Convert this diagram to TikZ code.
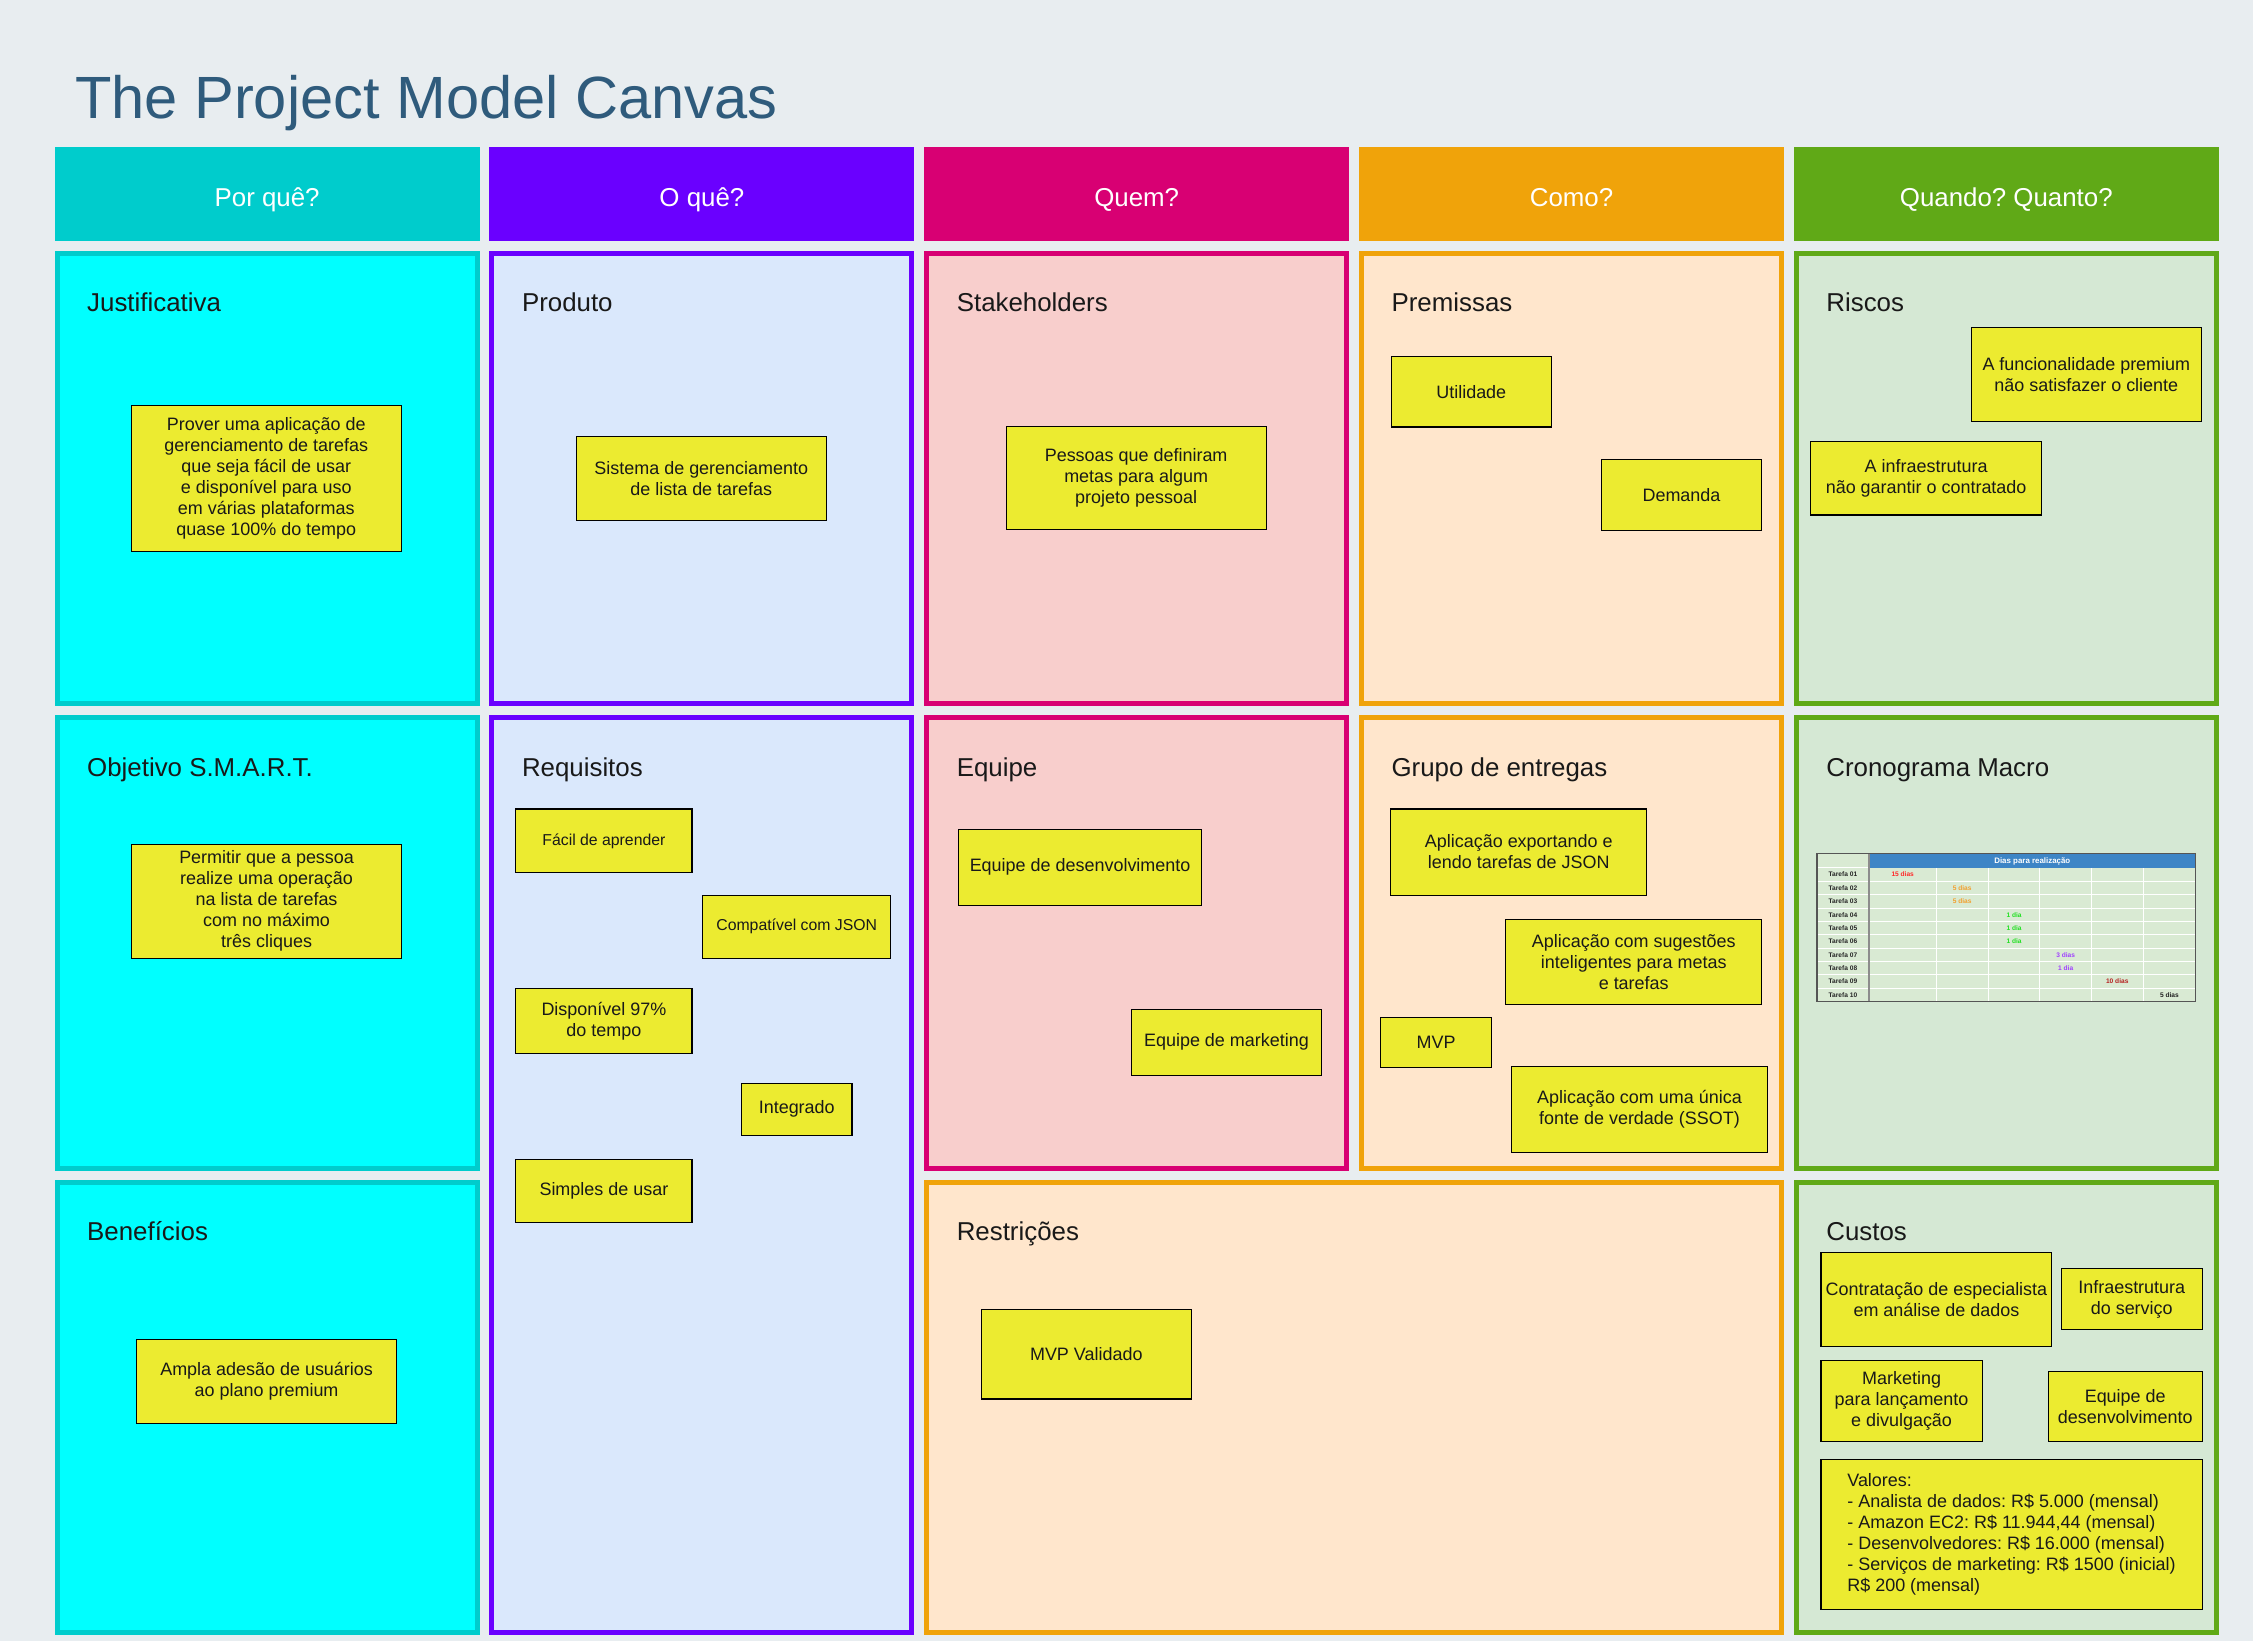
\documentclass[tikz,border=0pt]{standalone}
\usepackage{fontspec}
\setmainfont{Liberation Sans}
\frenchspacing
\definecolor{bg}{HTML}{E8EDF0}
\definecolor{titlec}{HTML}{2F5B7C}
\definecolor{c1h}{HTML}{00CCCC}
\definecolor{c1f}{HTML}{00FFFF}
\definecolor{c2h}{HTML}{6A00FF}
\definecolor{c2f}{HTML}{DAE8FC}
\definecolor{c3h}{HTML}{D80073}
\definecolor{c3f}{HTML}{F8CECC}
\definecolor{c4h}{HTML}{F0A30A}
\definecolor{c4f}{HTML}{FFE6CC}
\definecolor{c5h}{HTML}{60A917}
\definecolor{c5f}{HTML}{D5E8D4}
\definecolor{stickyc}{HTML}{ECEB30}
\definecolor{tblhead}{HTML}{3D85C6}
\definecolor{tblfill}{HTML}{D9EAD3}
\definecolor{tblborder}{HTML}{555555}
\definecolor{vred}{HTML}{FF2A2A}
\definecolor{vorange}{HTML}{F2A02E}
\definecolor{vgreen}{HTML}{22E022}
\definecolor{vpurple}{HTML}{A040FF}
\definecolor{vdred}{HTML}{B52020}
\definecolor{vblack}{HTML}{222222}

\newcommand{\stk}[6]{%
  \node[sticky, minimum width={(#4-#2)*1pt}, minimum height={(#5-#3)*1pt}] (#1) at ({(#2+#4)/2},{(#3+#5)/2}) {#6};}
\newcommand{\stks}[6]{%
  \node[sticky, font=\fontsize{11}{13}\selectfont, minimum width={(#4-#2)*1pt}, minimum height={(#5-#3)*1pt}] (#1) at ({(#2+#4)/2},{(#3+#5)/2}) {#6};}
\newcommand{\pnl}[8]{%
  \node[panel, fill=#6, draw=#7, minimum width={(#4-#2-3.5)*1pt}, minimum height={(#5-#3-3.5)*1pt}] (#1) at ({(#2+#4)/2},{(#3+#5)/2}) {};
  \node[ptitle, anchor=base west] (#1-t) at (#2+22.5,#3+42.3) {#8};}
\newcommand{\hdr}[4]{%
  \node[hdrbox, fill=#3] (#1) at (#2+147.9,135) {};
  \node[hdrtext, anchor=base] (#1-t) at (#2+147.9,143.8) {#4};}

\begin{document}
\begin{tikzpicture}[x=1pt,y=-1pt,
  sticky/.style={draw=black, line width=0.8pt, fill=stickyc, align=center, inner sep=0pt,
    font=\fontsize{12.5}{14.6}\selectfont, text=black!90},
  panel/.style={line width=3.5pt, inner sep=0pt},
  ptitle/.style={font=\fontsize{18}{22}\selectfont, inner sep=0pt, text=black!90},
  hdrbox/.style={inner sep=0pt, minimum width=295.8pt, minimum height=66pt},
  hdrtext/.style={font=\fontsize{18}{22}\selectfont, text=white, inner sep=0pt},
  tlab/.style={font=\fontsize{4.6}{5}\selectfont\bfseries, inner sep=0pt, text=black!85},
  tval/.style={font=\fontsize{4.6}{5}\selectfont\bfseries, inner sep=0pt}]

\useasboundingbox (0,0) rectangle (1568,1142);
\fill[bg] (0,0) rectangle (1568,1142);

% title
\node[anchor=base west, inner sep=0pt, text=titlec, font=\fontsize{41.5}{50}\selectfont] (title) at (52,82.3) {The Project Model Canvas};

% headers
\hdr{h1}{38}{c1h}{Por quê?}
\hdr{h2}{340.6}{c2h}{O quê?}
\hdr{h3}{643.2}{c3h}{Quem?}
\hdr{h4}{945.8}{c4h}{Como?}
\hdr{h5}{1248.4}{c5h}{Quando? Quanto?}

% panels
\pnl{just}{38}{174.7}{333.8}{491.6}{c1f}{c1h}{Justificativa}
\pnl{obj}{38}{497.8}{333.8}{814.7}{c1f}{c1h}{Objetivo S.M.A.R.T.}
\pnl{ben}{38}{820.9}{333.8}{1137.8}{c1f}{c1h}{Benefícios}

\pnl{prod}{340.6}{174.7}{636.4}{491.6}{c2f}{c2h}{Produto}
\pnl{req}{340.6}{497.8}{636.4}{1137.8}{c2f}{c2h}{Requisitos}

\pnl{stake}{643.2}{174.7}{939}{491.6}{c3f}{c3h}{Stakeholders}
\pnl{equipe}{643.2}{497.8}{939}{814.7}{c3f}{c3h}{Equipe}
\pnl{restr}{643.2}{820.9}{1241.6}{1137.8}{c4f}{c4h}{Restrições}

\pnl{prem}{945.8}{174.7}{1241.6}{491.6}{c4f}{c4h}{Premissas}
\pnl{grupo}{945.8}{497.8}{1241.6}{814.7}{c4f}{c4h}{Grupo de entregas}

\pnl{riscos}{1248.4}{174.7}{1544.2}{491.6}{c5f}{c5h}{Riscos}
\pnl{crono}{1248.4}{497.8}{1544.2}{814.7}{c5f}{c5h}{Cronograma Macro}
\pnl{custos}{1248.4}{820.9}{1544.2}{1137.8}{c5f}{c5h}{Custos}

% sticky notes
\stk{sj}{91.4}{282}{279.3}{384}{Prover uma aplicação de\\gerenciamento de tarefas\\que seja fácil de usar\\e disponível para uso\\em várias plataformas\\quase 100\% do tempo}
\stk{so}{91.6}{587.5}{279.5}{666.8}{Permitir que a pessoa\\realize uma operação\\na lista de tarefas\\com no máximo\\três cliques}
\stk{sb}{95.1}{932.4}{276}{990.7}{Ampla adesão de usuários\\ao plano premium}

\stk{sp}{401}{303.6}{575.1}{362}{Sistema de gerenciamento\\de lista de tarefas}
\stks{rfa}{359}{563}{481.6}{607.5}{Fácil de aprender}
\stks{rcj}{489}{623}{620}{667}{Compatível com JSON}
\stk{rdp}{359}{688}{481.6}{733}{Disponível 97\%\\do tempo}
\stk{rig}{516}{754}{593}{790}{Integrado}
\stk{rsu}{359}{807}{481.6}{851}{Simples de usar}

\stk{ss}{700.2}{297}{881.2}{368.8}{Pessoas que definiram\\metas para algum\\projeto pessoal}
\stk{se1}{667.1}{577}{836.3}{629.9}{Equipe de desenvolvimento}
\stk{se2}{787.3}{702.4}{919.8}{748.3}{Equipe de marketing}
\stk{smv}{683}{911.3}{829}{973.6}{MVP Validado}

\stk{pu}{968.2}{248.2}{1079.7}{297.2}{Utilidade}
\stk{pd}{1114.5}{319.7}{1226}{369}{Demanda}

\stk{g1}{968}{563}{1146}{623}{Aplicação exportando e\\lendo tarefas de JSON}
\stk{g2}{1048}{640}{1226}{699}{Aplicação com sugestões\\inteligentes para metas\\e tarefas}
\stk{g3}{961}{708}{1038}{743}{MVP}
\stk{g4}{1052}{742.5}{1230}{802}{Aplicação com uma única\\fonte de verdade (SSOT)}

\stk{r1}{1372}{228}{1532}{293.6}{A funcionalidade premium\\não satisfazer o cliente}
\stk{r2}{1260}{307.5}{1421}{358.4}{A infraestrutura\\não garantir o contratado}

\stk{c1}{1267.3}{871.6}{1428}{937.3}{Contratação de especialista\\em análise de dados}
\stk{c2}{1434.6}{883}{1532.6}{925}{Infraestrutura\\do serviço}
\stk{c3}{1267.3}{947}{1379.5}{1003.5}{Marketing\\para lançamento\\e divulgação}
\stk{c4}{1425.5}{954.5}{1532.6}{1003.5}{Equipe de\\desenvolvimento}
\node[sticky, align=left, minimum width=265.3pt, minimum height=104.3pt] (c5) at (1399.95,1067.85)
  {Valores:\\- Analista de dados: R\$ 5.000 (mensal)\\- Amazon EC2: R\$ 11.944,44 (mensal)\\- Desenvolvedores: R\$ 16.000 (mensal)\\- Serviços de marketing: R\$ 1500 (inicial)\\R\$ 200 (mensal)};

% cronograma table
\fill[tblfill] (1264.5,594) rectangle (1528,697);
\fill[tblhead] (1300.8,594) rectangle (1528,604);
\foreach \i in {1,...,9}
  \draw[white, line width=0.6pt] (1264.5,{604+\i*9.3}) -- (1528,{604+\i*9.3});
\draw[white, line width=0.6pt] (1264.5,604) -- (1300.8,604);
\foreach \xx in {1347.5,1383.7,1419.6,1455.6,1491.5}
  \draw[white, line width=0.7pt] (\xx,604) -- (\xx,697);
\draw[black!45, line width=0.9pt] (1300.8,594) -- (1300.8,697);
\draw[tblborder, line width=0.9pt] (1264.5,594) rectangle (1528,697);
\node[inner sep=0pt, text=white, font=\fontsize{5.5}{6}\selectfont\bfseries] (dias) at (1414.4,599.3) {Dias para realização};
\foreach \t [count=\i] in {01,02,03,04,05,06,07,08,09,10}
  \node[tlab] (tl\i) at (1282.6,{604+(\i-0.5)*9.3}) {Tarefa \t};
\foreach \r/\xx/\t/\c in {1/1324.2/15 dias/vred, 2/1365.6/5 dias/vorange, 3/1365.6/5 dias/vorange,
    4/1401.7/1 dia/vgreen, 5/1401.7/1 dia/vgreen, 6/1401.7/1 dia/vgreen,
    7/1437.6/3 dias/vpurple, 8/1437.6/1 dia/vpurple, 9/1473.5/10 dias/vdred, 10/1509.8/5 dias/vblack}
  \node[tval, text=\c] (tv\r) at (\xx,{604+(\r-0.5)*9.3}) {\t};

\end{tikzpicture}
\end{document}
